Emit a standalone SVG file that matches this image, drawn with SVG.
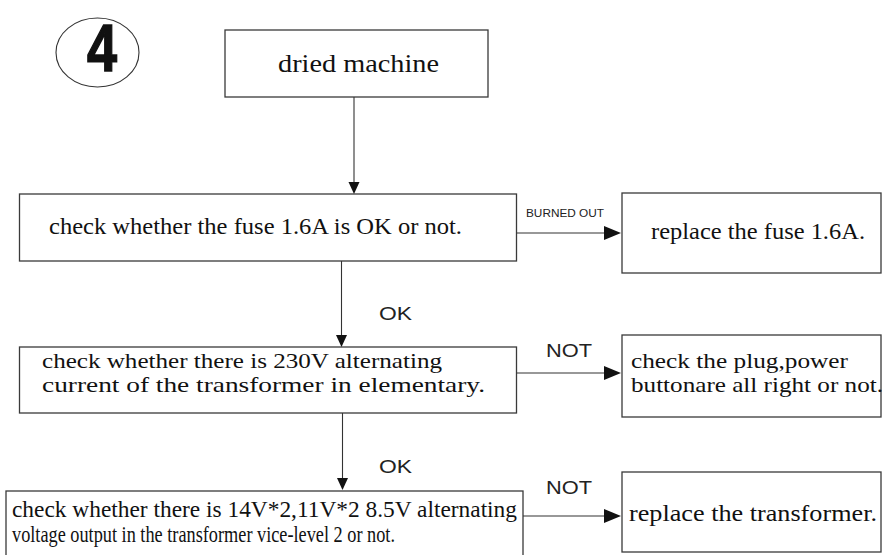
<svg xmlns="http://www.w3.org/2000/svg" width="884" height="555" viewBox="0 0 884 555">
<defs>
<style>
.box{fill:#fff;stroke:#3a3a3a;stroke-width:1.3}
.t{font-family:"Liberation Serif","Times New Roman",serif;fill:#111}
.s{font-family:"Liberation Sans",Arial,sans-serif;fill:#222}
.ln{stroke:#333;stroke-width:1.1;fill:none}
.ah{fill:#111}
</style>
</defs>
<rect width="884" height="555" fill="#fff"/>
<g id="badge">
<ellipse cx="97.5" cy="52.5" rx="41.5" ry="34.5" fill="none" stroke="#333" stroke-width="1.1"/>
<text x="87" y="71" font-family="Liberation Sans,Arial,sans-serif" font-weight="bold" font-size="66" textLength="30" lengthAdjust="spacingAndGlyphs" fill="#111" stroke="#111" stroke-width="1.5">4</text>
</g>
<g id="n1">
<rect class="box" x="225" y="30" width="263" height="67"/>
<text class="t" x="278" y="72" font-size="25" textLength="161" lengthAdjust="spacingAndGlyphs">dried machine</text>
</g>
<g id="n2">
<rect class="box" x="19.5" y="194" width="497" height="67"/>
<text class="t" x="49" y="234" font-size="23" textLength="413" lengthAdjust="spacingAndGlyphs">check whether the fuse 1.6A is OK or not.</text>
</g>
<g id="n3">
<rect class="box" x="622" y="193" width="259" height="80"/>
<text class="t" x="651" y="239" font-size="24" textLength="214" lengthAdjust="spacingAndGlyphs">replace the fuse 1.6A.</text>
</g>
<g id="n4">
<rect class="box" x="19.5" y="347" width="497" height="66"/>
<text class="t" x="42" y="368" font-size="21.5" textLength="400" lengthAdjust="spacingAndGlyphs">check whether there is 230V alternating</text>
<text class="t" x="42" y="392" font-size="21.5" textLength="443" lengthAdjust="spacingAndGlyphs">current of the transformer in elementary.</text>
</g>
<g id="n5">
<rect class="box" x="622" y="335" width="259" height="82"/>
<text class="t" x="631" y="368" font-size="21.5" textLength="217" lengthAdjust="spacingAndGlyphs">check the plug,power</text>
<text class="t" x="631" y="392" font-size="21.5" textLength="252" lengthAdjust="spacingAndGlyphs">buttonare all right or not.</text>
</g>
<g id="n6">
<rect class="box" x="6" y="491" width="517" height="70"/>
<text class="t" x="12" y="517" font-size="23" textLength="505" lengthAdjust="spacingAndGlyphs">check whether there is 14V*2,11V*2 8.5V alternating</text>
<text class="t" x="12" y="542" font-size="23" textLength="383" lengthAdjust="spacingAndGlyphs">voltage output in the transformer vice-level 2 or not.</text>
</g>
<g id="n7">
<rect class="box" x="622" y="472" width="259" height="80"/>
<text class="t" x="629" y="521" font-size="23" textLength="248" lengthAdjust="spacingAndGlyphs">replace the transformer.</text>
</g>
<g id="connectors">
<line class="ln" x1="354" y1="97" x2="354" y2="184"/>
<polygon class="ah" points="348.5,182 359.5,182 354,194"/>
<line class="ln" x1="517" y1="233" x2="605" y2="233"/>
<polygon class="ah" points="604,226 604,240 621,233"/>
<text class="s" x="526" y="217" font-size="10.5" textLength="78" lengthAdjust="spacingAndGlyphs">BURNED OUT</text>
<line class="ln" x1="341.5" y1="261" x2="341.5" y2="336"/>
<polygon class="ah" points="336,335 347,335 341.5,347"/>
<text class="s" x="379" y="320" font-size="19" textLength="33" lengthAdjust="spacingAndGlyphs">OK</text>
<line class="ln" x1="517" y1="373" x2="605" y2="373"/>
<polygon class="ah" points="604,366 604,380 621,373"/>
<text class="s" x="546" y="357" font-size="19" textLength="46" lengthAdjust="spacingAndGlyphs">NOT</text>
<line class="ln" x1="342.5" y1="413" x2="342.5" y2="479"/>
<polygon class="ah" points="337,478 348,478 342.5,490"/>
<text class="s" x="379" y="473" font-size="19" textLength="33" lengthAdjust="spacingAndGlyphs">OK</text>
<line class="ln" x1="523" y1="516" x2="605" y2="516"/>
<polygon class="ah" points="604,509 604,523 621,516"/>
<text class="s" x="546" y="494" font-size="19" textLength="46" lengthAdjust="spacingAndGlyphs">NOT</text>
</g>
</svg>
